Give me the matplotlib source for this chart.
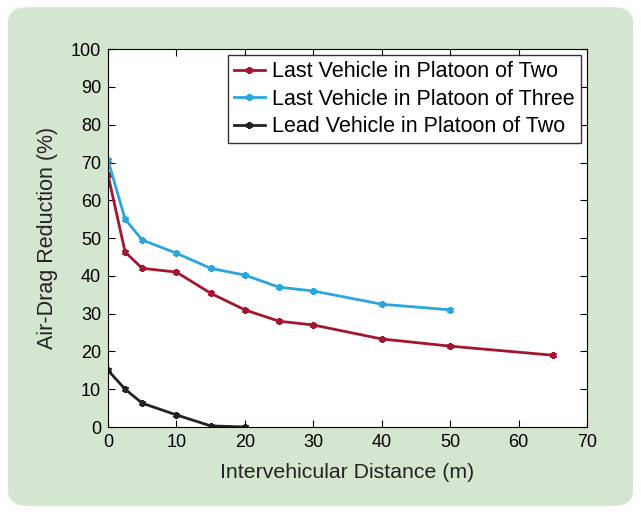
import matplotlib
matplotlib.use('Agg')
import matplotlib.pyplot as plt
from matplotlib.patches import FancyBboxPatch

plt.rcParams['font.family'] = ['Liberation Sans', 'DejaVu Sans']

# data
dist_two = [0, 2.5, 5, 10, 15, 20, 25, 30, 40, 50, 65]
last_two = [66.7, 46.3, 42, 41, 35.4, 31, 28, 27, 23.3, 21.4, 19]
dist_three = [0, 2.5, 5, 10, 15, 20, 25, 30, 40, 50]
last_three = [70.6, 55, 49.5, 46, 42, 40.2, 37, 36, 32.5, 31]
dist_lead = [0, 2.5, 5, 10, 15, 20]
lead_two = [15, 10, 6.3, 3.2, 0.3, 0]

fig = plt.figure(figsize=(6.41, 5.12), dpi=100)
bg = FancyBboxPatch((0.0125, 0.012), 0.975, 0.974, boxstyle='round,pad=0,rounding_size=0.03',
                    transform=fig.transFigure, facecolor='#d5e6d0', edgecolor='none', zorder=-1)
fig.patches.append(bg)

ax = fig.add_axes([0.1685, 0.166, 0.7473, 0.738])
ax.plot(dist_two, last_two, color='#a3162f', lw=2, marker=(6, 2, 0), ms=5, mew=1.5,
        label='Last Vehicle in Platoon of Two')
ax.plot(dist_three, last_three, color='#2aa6dd', lw=2, marker=(6, 2, 0), ms=5, mew=1.5,
        label='Last Vehicle in Platoon of Three')
ax.plot(dist_lead, lead_two, color='#222222', lw=2, marker=(6, 2, 0), ms=5, mew=1.5,
        label='Lead Vehicle in Platoon of Two')

ax.set_xlim(0, 70)
ax.set_ylim(0, 100)
ax.set_xticks(range(0, 71, 10))
ax.set_yticks(range(0, 101, 10))
ax.tick_params(direction='in', top=True, right=True, labelsize=13, length=5, pad=5)
ax.set_xlabel('Intervehicular Distance (m)', fontsize=15.3, labelpad=9, color='#222222')
ax.set_ylabel('Air-Drag Reduction (%)', fontsize=15.5, labelpad=9, color='#222222')
leg = ax.legend(loc='upper right', fontsize=15.5, fancybox=False, edgecolor='black',
                handlelength=1.45, handletextpad=0.35, borderaxespad=0.28,
                labelspacing=0.3, borderpad=0.28)
leg.get_frame().set_linewidth(1)

fig.savefig('out.png')
